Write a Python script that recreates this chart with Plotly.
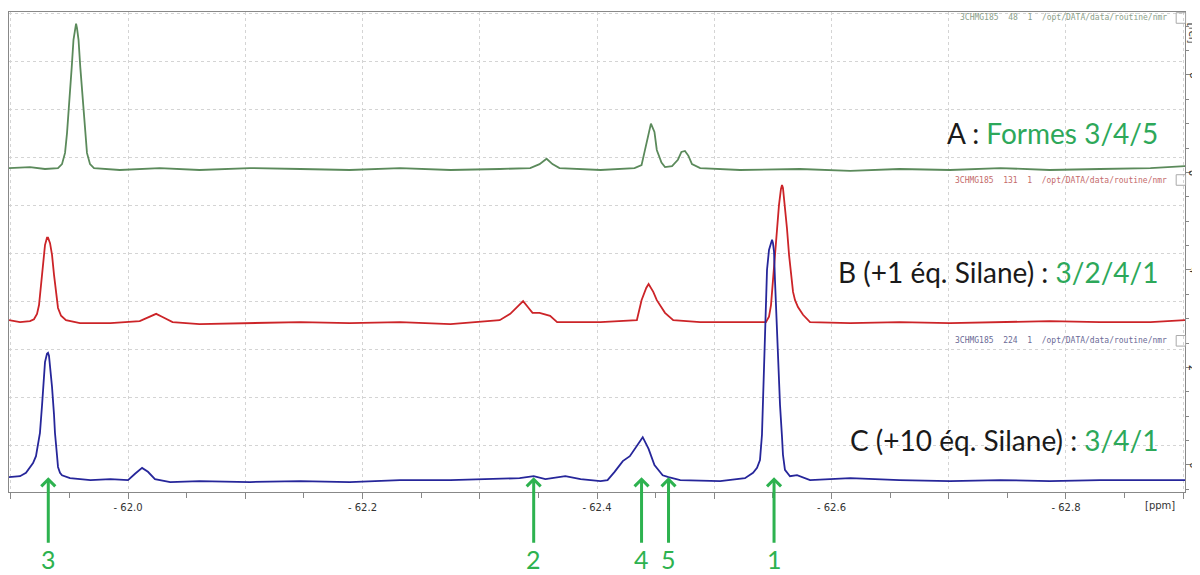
import plotly.graph_objects as go

# ---------------- data (ppm, relative intensity) ----------------
ppm_A = [-61.8985, -61.9164, -61.9292, -61.9403, -61.9437, -61.9463, -61.9480, -61.9491, -61.9505, -61.9520,
         -61.9535, -61.9548, -61.9557, -61.9565, -61.9578, -61.9593, -61.9608, -61.9622, -61.9633, -61.9650,
         -61.9676, -61.9710, -61.993, -62.027, -62.061, -62.104, -62.147, -62.189, -62.232, -62.275,
         -62.317, -62.343, -62.351, -62.357, -62.362, -62.368, -62.403, -62.432, -62.438, -62.441,
         -62.444, -62.446, -62.449, -62.451, -62.455, -62.458, -62.464, -62.469, -62.472, -62.475,
         -62.478, -62.481, -62.488, -62.522, -62.573, -62.616, -62.658, -62.701, -62.744, -62.786,
         -62.829, -62.872, -62.9015]
int_A = [6.09, 6.11, 6.07, 6.09, 6.17, 6.40, 6.81, 7.14, 7.69, 8.16,
         8.72, 8.96, 9.05, 8.96, 8.72, 8.16, 7.69, 7.14, 6.81, 6.40,
         6.17, 6.09, 6.05, 6.09, 6.05, 6.09, 6.07, 6.05, 6.09, 6.05,
         6.07, 6.09, 6.17, 6.28, 6.17, 6.09, 6.05, 6.09, 6.15, 6.46,
         6.83, 7.00, 6.83, 6.46, 6.20, 6.11, 6.13, 6.26, 6.42, 6.44,
         6.34, 6.17, 6.09, 6.05, 6.07, 6.03, 6.07, 6.05, 6.09, 6.05,
         6.07, 6.09, 6.13]

ppm_B = [-61.8985, -61.9079, -61.9164, -61.9198, -61.9224, -61.9241, -61.9258, -61.9275, -61.9292, -61.9309,
         -61.9318, -61.9335, -61.9352, -61.9369, -61.9386, -61.9403, -61.9429, -61.9471, -61.959, -61.985,
         -62.010, -62.019, -62.024, -62.029, -62.038, -62.061, -62.104, -62.147, -62.189, -62.232,
         -62.275, -62.317, -62.326, -62.333, -62.337, -62.341, -62.345, -62.351, -62.360, -62.366,
         -62.403, -62.434, -62.438, -62.442, -62.444, -62.448, -62.451, -62.458, -62.465, -62.488,
         -62.522, -62.5390, -62.5441, -62.5467, -62.5484, -62.5501, -62.5518, -62.5535, -62.5552, -62.5569,
         -62.5578, -62.5586, -62.5603, -62.5620, -62.5638, -62.5655, -62.5672, -62.5689, -62.5714, -62.5757,
         -62.5817, -62.616, -62.658, -62.701, -62.744, -62.786, -62.829, -62.872, -62.9015]
int_B = [2.97, 2.93, 2.95, 2.99, 3.10, 3.28, 3.69, 4.16, 4.51, 4.66,
         4.66, 4.55, 4.31, 3.90, 3.49, 3.22, 3.06, 2.97, 2.91, 2.91,
         2.95, 3.04, 3.10, 3.04, 2.93, 2.89, 2.91, 2.93, 2.91, 2.93,
         2.89, 2.97, 3.10, 3.26, 3.36, 3.24, 3.12, 3.12, 3.06, 2.93,
         2.93, 2.97, 3.38, 3.63, 3.71, 3.55, 3.38, 3.12, 2.97, 2.93,
         2.93, 2.93, 2.93, 3.04, 3.28, 3.79, 4.31, 4.86, 5.33, 5.66,
         5.74, 5.68, 5.33, 4.86, 4.31, 3.90, 3.55, 3.38, 3.24, 3.08,
         2.93, 2.91, 2.93, 2.91, 2.93, 2.95, 2.93, 2.93, 2.97]

ppm_C = [-61.8985, -61.9079, -61.9130, -61.9164, -61.9190, -61.9215, -61.9232, -61.9249, -61.9267, -61.9275,
         -61.9292, -61.9309, -61.9318, -61.9326, -61.9343, -61.9352, -61.9369, -61.9377, -61.9394, -61.9403,
         -61.9420, -61.9437, -61.9505, -61.968, -61.985, -62.000, -62.006, -62.012, -62.017, -62.023,
         -62.036, -62.061, -62.104, -62.147, -62.189, -62.232, -62.275, -62.317, -62.334, -62.346,
         -62.356, -62.373, -62.386, -62.403, -62.409, -62.415, -62.422, -62.428, -62.434, -62.439,
         -62.444, -62.449, -62.456, -62.461, -62.471, -62.505, -62.5262, -62.5331, -62.5365, -62.5390,
         -62.5407, -62.5416, -62.5424, -62.5433, -62.5441, -62.5450, -62.5467, -62.5484, -62.5493, -62.5501,
         -62.5510, -62.5518, -62.5527, -62.5535, -62.5552, -62.5561, -62.5578, -62.5586, -62.5603, -62.5646,
         -62.5706, -62.5817, -62.616, -62.658, -62.701, -62.744, -62.786, -62.829, -62.872, -62.9015]
int_C = [-0.25, -0.23, -0.16, -0.06, 0.04, 0.18, 0.41, 0.66, 1.23, 1.60,
         2.11, 2.28, 2.30, 2.24, 1.85, 1.60, 1.03, 0.66, 0.21, -0.04,
         -0.16, -0.21, -0.27, -0.31, -0.29, -0.31, -0.18, -0.06, -0.14, -0.29,
         -0.35, -0.33, -0.35, -0.33, -0.35, -0.31, -0.31, -0.29, -0.27, -0.23,
         -0.29, -0.23, -0.29, -0.33, -0.31, -0.14, 0.08, 0.18, 0.39, 0.57,
         0.33, 0.00, -0.21, -0.25, -0.31, -0.33, -0.27, -0.16, -0.06, 0.10,
         0.62, 1.27, 1.95, 2.63, 3.38, 4.00, 4.41, 4.59, 4.62, 4.55,
         4.37, 3.79, 3.18, 2.63, 1.64, 1.23, 0.57, 0.21, -0.10, -0.23,
         -0.21, -0.31, -0.27, -0.31, -0.33, -0.31, -0.33, -0.31, -0.31, -0.31]

x_tick_vals = [-61.9, -62.0, -62.1, -62.2, -62.3, -62.4, -62.5, -62.6, -62.7, -62.8, -62.9]
x_tick_text = ["", "- 62.0", "", "- 62.2", "", "- 62.4", "", "- 62.6", "", "- 62.8", ""]
y_tick_vals = [0, 2, 4, 6, 8]
y_tick_text = ["0", "2", "4", "6", "8"]

peak_labels = ["3", "2", "4", "5", "1"]
peak_ppm = [-61.932, -62.346, -62.438, -62.461, -62.551]

spectrum_names = ["A", "B", "C"]
spectrum_labels = ["A : <span style='color:#2da85a'>Formes 3/4/5</span>",
                   "B (+1 éq. Silane) : <span style='color:#2da85a'>3/2/4/1</span>",
                   "C (+10 éq. Silane) : <span style='color:#2da85a'>3/4/1</span>"]
header_texts = ["3CHMG185  48  1  /opt/DATA/data/routine/nmr",
                "3CHMG185  131  1  /opt/DATA/data/routine/nmr",
                "3CHMG185  224  1  /opt/DATA/data/routine/nmr"]

# ---------------- style ----------------
X_RANGE = [-61.8985, -62.9015]
Y_RANGE = [-0.554, 9.29]
line_colors = ["#5b8a5b", "#cc2428", "#26269a"]
header_colors = ["#8aa08a", "#c46a6a", "#6a6a96"]
GREEN = "#2db24f"

fig = go.Figure()
for name, xs, ys, col in zip(spectrum_names, [ppm_A, ppm_B, ppm_C], [int_A, int_B, int_C], line_colors):
    fig.add_trace(go.Scatter(x=xs, y=ys, mode="lines", name=name,
                             line=dict(color=col, width=1.8), showlegend=False,
                             hoverinfo="skip"))
# dummy trace to host the right-side axis
fig.add_trace(go.Scatter(x=[None], y=[None], xaxis="x", yaxis="y2", showlegend=False, hoverinfo="skip"))

annotations = []
label_y = [0.748, 0.458, 0.108]
for txt, yy in zip(spectrum_labels, label_y):
    annotations.append(dict(xref="paper", yref="paper", x=0.979, y=yy, xanchor="right", yanchor="middle",
                            text=txt, showarrow=False,
                            font=dict(family="Lato", size=28, color="#1a1a1a")))

header_y = [0.9875, 0.650, 0.315]
for txt, yy, col in zip(header_texts, header_y, header_colors):
    annotations.append(dict(xref="paper", yref="paper", x=0.986, y=yy, xanchor="right", yanchor="middle",
                            text=txt, showarrow=False,
                            font=dict(family="DejaVu Sans Mono", size=8, color=col)))

for lab, px in zip(peak_labels, peak_ppm):
    annotations.append(dict(x=px, y=-0.25, xref="x", yref="y", text=lab, showarrow=True,
                            ax=0, ay=82, arrowhead=4, arrowsize=0.9, arrowwidth=3,
                            arrowcolor=GREEN, standoff=0,
                            font=dict(family="Lato", size=25, color=GREEN)))

# rotated right-hand tick labels (placed just outside the right axis line)
for tv, tt in zip(y_tick_vals, y_tick_text):
    annotations.append(dict(xref="paper", yref="y", x=1.0066, y=tv, xanchor="center", yanchor="middle",
                            text=tt, textangle=90, showarrow=False,
                            font=dict(family="DejaVu Sans", size=10, color="#333")))

annotations.append(dict(xref="paper", yref="paper", x=1.0066, y=0.955, xanchor="center", yanchor="middle",
                        text="[rel]", textangle=90,
                        showarrow=False, font=dict(family="DejaVu Sans", size=10, color="#333")))
annotations.append(dict(xref="paper", yref="paper", x=0.979, y=-0.029, xanchor="center", yanchor="middle",
                        text="[ppm]",
                        showarrow=False, font=dict(family="DejaVu Sans", size=10, color="#333")))

shapes = []
for yy in header_y:
    shapes.append(dict(type="rect", xref="paper", yref="paper", x0=0.9925, x1=1.0005,
                       y0=yy - 0.011, y1=yy + 0.011, line=dict(color="#aaaaaa", width=1)))

# the page body keeps an 8px margin, so the figure is drawn 8px smaller and offset
fig.update_layout(
    width=1192, height=567,
    margin=dict(l=1, r=15, t=4, b=83, autoexpand=False),
    paper_bgcolor="white", plot_bgcolor="white",
    xaxis=dict(range=X_RANGE, tickvals=x_tick_vals, ticktext=x_tick_text,
               showgrid=True, gridcolor="#d4d4d4", griddash="dot", gridwidth=1,
               showline=True, linecolor="#888888", linewidth=1, mirror=True,
               ticks="outside", ticklen=6, tickcolor="#888888", zeroline=False,
               minor=dict(dtick=0.05, tick0=-62.0, ticks="outside", ticklen=5, tickcolor="#888888", showgrid=False),
               tickfont=dict(family="DejaVu Sans", size=10, color="#333")),
    yaxis=dict(range=Y_RANGE, tick0=0.39, dtick=0.985, showticklabels=False, ticks="",
               showgrid=True, gridcolor="#d4d4d4", griddash="dot", gridwidth=1,
               showline=True, linecolor="#888888", linewidth=1, zeroline=False),
    yaxis2=dict(range=Y_RANGE, overlaying="y", side="right", anchor="x",
                tickvals=y_tick_vals, showticklabels=False,
                showgrid=False, zeroline=False, showline=True, linecolor="#888888", linewidth=1,
                ticks="outside", ticklen=5, tickcolor="#888888",
                minor=dict(dtick=0.5, tick0=0, ticks="outside", ticklen=3, tickcolor="#888888")),
    annotations=annotations,
    shapes=shapes,
)

fig.write_html("out.html")
